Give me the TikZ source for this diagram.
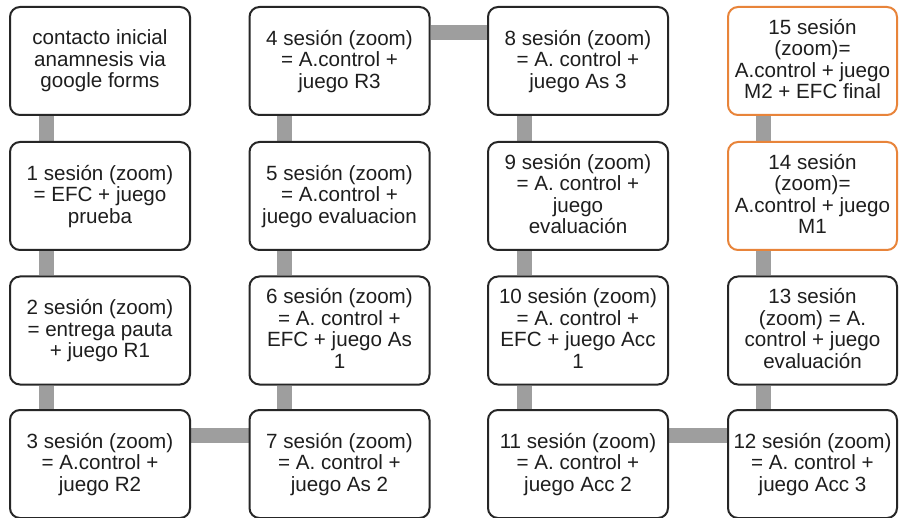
\documentclass[tikz,border=0pt]{standalone}
\usepackage{fontspec}
\setmainfont{Liberation Sans}
\usetikzlibrary{backgrounds}
\definecolor{conn}{HTML}{9E9E9E}
\definecolor{orng}{HTML}{E8843A}
\definecolor{txt}{HTML}{1E1E1E}
\tikzset{
  box/.style={draw=black!85, line width=2pt, rounded corners=10pt, fill=white,
    minimum width=180pt, minimum height=108pt, align=center, inner sep=0pt,
    text depth=4pt, text=txt, font=\fontsize{20.6}{21.5}\selectfont},
  obox/.style={box, draw=orng},
  link/.style={draw=conn, line width=15pt},
}
\begin{document}
\begin{tikzpicture}[x=1pt,y=-1pt]
\useasboundingbox (0,0) rectangle (899,518);
% column 1
\node[box] (c0) at (100,61) {contacto inicial\\anamnesis via\\google forms};
\node[box] (s1) at (100,196) {1 sesión (zoom)\\= EFC + juego\\prueba};
\node[box] (s2) at (100,330.5) {2 sesión (zoom)\\= entrega pauta\\+ juego R1};
\node[box] (s3) at (100,464) {3 sesión (zoom)\\= A.control +\\juego R2};
% column 2
\node[box] (s4) at (339.5,61) {4 sesión (zoom)\\= A.control +\\juego R3};
\node[box] (s5) at (339.5,196) {5 sesión (zoom)\\= A.control +\\juego evaluacion};
\node[box] (s6) at (339.5,330.5) {6 sesión (zoom)\\= A. control +\\EFC + juego As\\1};
\node[box] (s7) at (339.5,464) {7 sesión (zoom)\\= A. control +\\juego As 2};
% column 3
\node[box] (s8) at (578,61) {8 sesión (zoom)\\= A. control +\\juego As 3};
\node[box] (s9) at (578,196) {9 sesión (zoom)\\= A. control +\\juego\\evaluación};
\node[box] (s10) at (578,330.5) {10 sesión (zoom)\\= A. control +\\EFC + juego Acc\\1};
\node[box] (s11) at (578,464) {11 sesión (zoom)\\= A. control +\\juego Acc 2};
% column 4
\node[obox, minimum width=169pt] (s15) at (812.5,61) {15 sesión\\(zoom)=\\A.control + juego\\M2 + EFC final};
\node[obox, minimum width=169pt] (s14) at (812.5,196) {14 sesión\\(zoom)=\\A.control + juego\\M1};
\node[box, minimum width=169pt] (s13) at (812.5,330.5) {13 sesión\\(zoom) = A.\\control + juego\\evaluación};
\node[box, minimum width=169pt] (s12) at (812.5,464) {12 sesión (zoom)\\= A. control +\\juego Acc 3};
% connectors
\begin{scope}[on background layer]
\fill[white] (0,0) rectangle (899,518);
\draw[link] ([xshift=37.5pt]c0.south west) -- ([xshift=37.5pt]s1.north west);
\draw[link] ([xshift=37.5pt]s1.south west) -- ([xshift=37.5pt]s2.north west);
\draw[link] ([xshift=37.5pt]s2.south west) -- ([xshift=37.5pt]s3.north west);
\draw[link] ([yshift=-26pt]s3.north east) -- ([yshift=-26pt]s7.north west);
\draw[link] ([xshift=36pt]s7.north west) -- ([xshift=36pt]s6.south west);
\draw[link] ([xshift=36pt]s6.north west) -- ([xshift=36pt]s5.south west);
\draw[link] ([xshift=36pt]s5.north west) -- ([xshift=36pt]s4.south west);
\draw[link] ([yshift=-27pt]s4.north east) -- ([yshift=-27pt]s8.north west);
\draw[link] ([xshift=37pt]s8.south west) -- ([xshift=37pt]s9.north west);
\draw[link] ([xshift=37pt]s9.south west) -- ([xshift=37pt]s10.north west);
\draw[link] ([xshift=37pt]s10.south west) -- ([xshift=37pt]s11.north west);
\draw[link] ([yshift=-26pt]s11.north east) -- ([yshift=-26pt]s12.north west);
\draw[link] ([xshift=36pt]s12.north west) -- ([xshift=36pt]s13.south west);
\draw[link] ([xshift=36pt]s13.north west) -- ([xshift=36pt]s14.south west);
\draw[link] ([xshift=36pt]s14.north west) -- ([xshift=36pt]s15.south west);
\end{scope}
\end{tikzpicture}
\end{document}
